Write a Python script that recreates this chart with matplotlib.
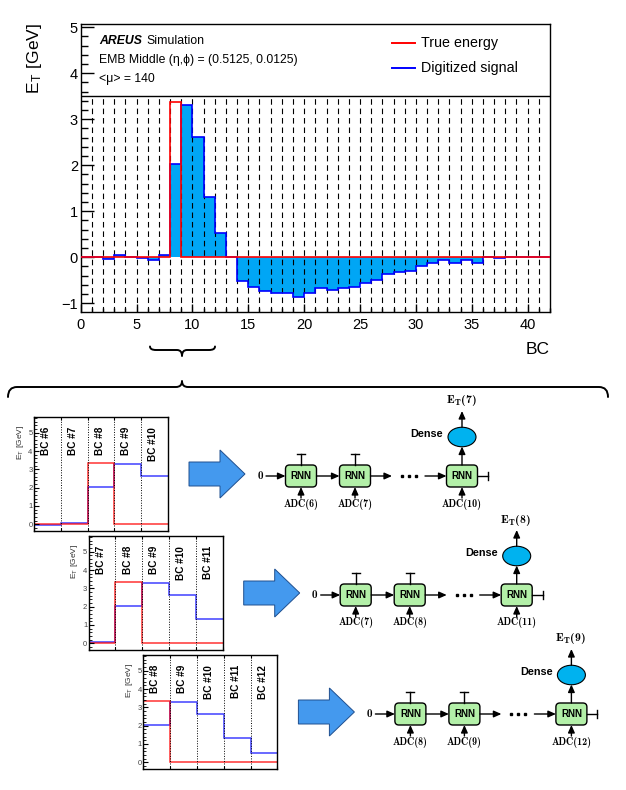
import numpy as np
import matplotlib
matplotlib.use('Agg')
import matplotlib.pyplot as plt
from matplotlib.patches import FancyBboxPatch, Ellipse, Polygon, PathPatch
from matplotlib.path import Path
from matplotlib.ticker import MultipleLocator, NullFormatter

plt.rcParams['font.family'] = ['Liberation Sans', 'DejaVu Sans']
plt.rcParams['mathtext.fontset'] = 'cm'

# ---------------- data ----------------
digitized = np.array([0.0, 0.0, -0.04, 0.04, 0.01, -0.01, -0.06, 0.04, 2.03, 3.31, 2.62, 1.32, 0.52, 0.01,
                      -0.51, -0.64, -0.74, -0.77, -0.77, -0.87, -0.78, -0.67, -0.72, -0.67, -0.64, -0.57,
                      -0.49, -0.36, -0.31, -0.29, -0.19, -0.12, -0.06, -0.13, -0.06, -0.13, 0.01, -0.01,
                      0.01, 0.0, 0.0, 0.0])
true_energy = np.array([0, 0, 0, 0, 0, 0, 0, 0, 3.37, 0, 0, 0, 0, 0,
                        0, 0, 0, 0, 0, 0, 0, 0, 0, 0, 0, 0,
                        0, 0, 0, 0, 0, 0, 0, 0, 0, 0, 0, 0,
                        0, 0, 0, 0], dtype=float)
panel_start = [6, 7, 8]            # first BC shown in each zoomed panel
adc_labels = [(6, 7, 10), (7, 8, 11), (8, 9, 12)]
out_labels = [7, 8, 9]
legend_labels = ['True energy', 'Digitized signal']
info_lines = ['EMB Middle (η,ϕ) = (0.5125, 0.0125)', '<μ> = 140']

# ---------------- figure ----------------
W, H = 626, 790
fig = plt.figure(figsize=(W / 100, H / 100), dpi=100)


def px_axes(l, t, r, b):
    return fig.add_axes([l / W, 1 - b / H, (r - l) / W, (b - t) / H])


ov = fig.add_axes([0, 0, 1, 1])
ov.set_xlim(0, W)
ov.set_ylim(H, 0)
ov.axis('off')
ov.set_zorder(10)

SERIF_B = 'cmb10'

# ---------------- main histogram ----------------
ax = px_axes(80.7, 24, 550, 312)
edges = np.arange(len(digitized) + 1)
ylo, yhi = -1.19, 5.07
ax.stairs(digitized, edges, baseline=0, fill=True, color='#00a6f5', zorder=1)
ax.vlines(edges[1:-1], ylo, 3.5, colors='k', linestyles=(0, (5, 3.5)), linewidth=0.8, zorder=2)
ax.stairs(digitized, edges, baseline=0, color='#0000ff', lw=1.2, zorder=3)
ax.stairs(true_energy, edges, baseline=0, color='#ff0000', lw=1.2, zorder=4)
ax.axhline(3.5, color='k', lw=1.0, zorder=5)
ax.set_xlim(0, 42)
ax.set_ylim(ylo, yhi)
ax.xaxis.set_major_locator(MultipleLocator(5))
ax.xaxis.set_minor_locator(MultipleLocator(1))
ax.yaxis.set_major_locator(MultipleLocator(1))
ax.yaxis.set_minor_locator(MultipleLocator(0.2))
ax.tick_params(which='both', direction='in', top=False, right=False, labelsize=10.5, width=1)
ax.tick_params(axis='y', which='major', length=9.4, pad=2)
ax.tick_params(axis='y', which='minor', length=4.7)
ax.tick_params(axis='x', which='major', length=6, pad=4)
ax.tick_params(axis='x', which='minor', length=3)
for sp in ax.spines.values():
    sp.set_linewidth(1.0)

# legend box content
ov.text(99, 40.7, 'AREUS', fontsize=8.8, fontweight='bold', fontstyle='italic', va='center', ha='left')
ov.text(146, 40.7, 'Simulation', fontsize=8.8, va='center', ha='left')
ov.text(99, 60, info_lines[0], fontsize=8.8, va='center', ha='left')
ov.text(99, 79, info_lines[1], fontsize=8.8, va='center', ha='left')
ov.plot([392, 415], [43.3, 43.3], color='#ff0000', lw=1.4)
ov.plot([392, 415], [67.7, 67.7], color='#0000ff', lw=1.4)
ov.text(421, 43.3, legend_labels[0], fontsize=10.3, va='center', ha='left')
ov.text(421, 67.7, legend_labels[1], fontsize=10.3, va='center', ha='left')

# axis titles
ov.text(35, 23, 'E$_{\\mathregular{T}}$ [GeV]', rotation=90, ha='center', va='top', fontsize=12.5)
ov.text(550, 349, 'BC', ha='right', va='center', fontsize=12.5)


# ---------------- braces ----------------
def brace(x0, x1, xt, y, end_h, tip_h, r_end, r_tip, lw=1.4):
    verts = [(x0, y + end_h), (x0, y), (x0 + r_end, y),
             (xt - r_tip, y), (xt, y), (xt, y + tip_h),
             (xt, y), (xt + r_tip, y),
             (x1 - r_end, y), (x1, y), (x1, y + end_h)]
    codes = [Path.MOVETO, Path.CURVE3, Path.CURVE3,
             Path.LINETO, Path.CURVE3, Path.CURVE3,
             Path.CURVE3, Path.CURVE3,
             Path.LINETO, Path.CURVE3, Path.CURVE3]
    ov.add_patch(PathPatch(Path(verts, codes), fill=False, lw=lw, edgecolor='k',
                           capstyle='round', joinstyle='round'))


brace(150, 215, 182, 350, -3.5, 6, 6, 5)
brace(8, 608, 182, 387, 10, -6, 9, 6)


# ---------------- zoomed panels + RNN diagrams ----------------
def arrow(x0, y0, x1, y1):
    ov.annotate('', xy=(x1, y1), xytext=(x0, y0),
                arrowprops=dict(arrowstyle='-|>,head_length=0.45,head_width=0.2', lw=1.0, color='k',
                                shrinkA=0, shrinkB=0, mutation_scale=10))


bw, bh = 31, 22
for i, s in enumerate(panel_start):
    dx, dy = 54.7 * i, 119.0 * i
    L, T = 34 + dx, 417 + dy
    pax = px_axes(L, T, L + 134, T + 114)
    sl = slice(s, s + 5)
    e = edges[s:s + 6]
    p_lo, p_hi = -0.37, 5.86
    pax.vlines(e[1:-1], p_lo, p_hi, colors='k', linestyles=(0, (1, 1.6)), lw=0.7)
    pax.stairs(digitized[sl], e, baseline=None, color='#0000ff', lw=1.1, alpha=0.75)
    pax.stairs(true_energy[sl], e, baseline=None, color='#ff0000', lw=1.1, alpha=0.8)
    pax.set_xlim(e[0], e[-1])
    pax.set_ylim(p_lo, p_hi)
    pax.set_xticks(e)
    pax.xaxis.set_major_formatter(NullFormatter())
    pax.yaxis.set_major_locator(MultipleLocator(1))
    pax.yaxis.set_minor_locator(MultipleLocator(0.2))
    pax.tick_params(which='both', direction='in', top=True, bottom=True, right=False,
                    labelsize=5.5, labelcolor='#444444', pad=1)
    pax.tick_params(axis='y', which='major', length=3.5)
    pax.tick_params(axis='y', which='minor', length=1.8)
    pax.tick_params(axis='x', which='major', length=2.5)
    for sp in pax.spines.values():
        sp.set_linewidth(1.0)
    for j in range(5):
        pax.text(e[j] + 0.45, 5.32, f'BC #{s + j}', rotation=90, ha='center', va='top',
                 fontweight='bold', fontsize=7.2)
    ov.text(L - 14, T + 8, 'E$_{\\mathregular{T}}$ [GeV]', rotation=90, ha='center', va='top',
            fontsize=6, color='#333333')

    # big blue arrow
    pts = [(189, 462), (220, 462), (220, 450), (245, 474), (220, 498), (220, 486), (189, 486)]
    ov.add_patch(Polygon([(x + dx, y + dy) for x, y in pts], closed=True,
                         facecolor='#4499ee', edgecolor='#1f4f8f', lw=0.7))

    # RNN chain
    cx, cy = 301 + dx, 476 + dy
    xs = [cx, cx + 54, cx + 161]
    for x in xs:
        ov.add_patch(FancyBboxPatch((x - bw / 2 + 4, cy - bh / 2 + 4), bw - 8, bh - 8,
                                    boxstyle='round,pad=4', facecolor='#b3f0a8', edgecolor='k', lw=1.0))
        ov.text(x, cy, 'RNN', ha='center', va='center', fontweight='bold', fontsize=7)
        arrow(x, cy + 22, x, cy + bh / 2)
    for x, a in zip(xs, adc_labels[i]):
        ov.text(x, cy + 28, 'ADC(%d)' % a, ha='center', va='center', fontsize=7.2, family=SERIF_B)
    ov.text(cx - 41, cy, '0', ha='center', va='center', fontsize=8, family=SERIF_B)
    arrow(cx - 35, cy, cx - bw / 2, cy)
    arrow(cx + bw / 2, cy, cx + 54 - bw / 2, cy)
    arrow(cx + 54 + bw / 2, cy, cx + 91, cy)
    ov.plot([cx + 101, cx + 108, cx + 115], [cy, cy, cy], 's', ms=1.9, color='k')
    arrow(cx + 124, cy, cx + 161 - bw / 2, cy)
    # terminator on the right
    ov.plot([cx + 161 + bw / 2, cx + 187], [cy, cy], color='k', lw=1.0)
    ov.plot([cx + 187, cx + 187], [cy - 4, cy + 4], color='k', lw=1.0)
    # T-bars above first two cells
    for x in xs[:2]:
        ov.plot([x, x], [cy - bh / 2, cy - 22], color='k', lw=1.0)
        ov.plot([x - 4, x + 4], [cy - 22, cy - 22], color='k', lw=1.0)
    # dense + output
    xe = cx + 161
    arrow(xe, cy - bh / 2, xe, cy - 29.5)
    ov.add_patch(Ellipse((xe, cy - 39), 28, 19.5, facecolor='#00b2ef', edgecolor='k', lw=0.8))
    ov.text(cx + 142, cy - 42, 'Dense', ha='right', va='center', fontweight='bold', fontsize=7.8)
    arrow(xe, cy - 48.8, xe, cy - 65)
    ov.text(xe - 1, cy - 75, 'E$_{\\mathregular{T}}$(%d)' % out_labels[i], ha='center', va='center',
            fontsize=8.5, family=SERIF_B)

fig.savefig('out.png', dpi=100)
